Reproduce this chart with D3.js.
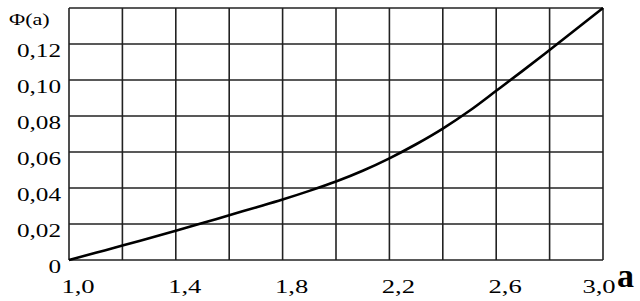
<!DOCTYPE html>
<html>
<head>
<meta charset="utf-8">
<script src="https://cdn.jsdelivr.net/npm/d3@7"></script>
<style>
  body { margin: 0; background: #fff; }
</style>
</head>
<body>
<div id="chart"></div>
<script>
// curve Φ(a)
let aValues   = [1.0, 1.1, 1.2, 1.3, 1.4, 1.5, 1.6, 1.7, 1.8, 1.9, 2.0,
                 2.1, 2.2, 2.3, 2.4, 2.5, 2.6, 2.7, 2.8, 2.9, 3.0];
let phiValues = [0, 0.0040, 0.0080, 0.0121, 0.0162, 0.0205, 0.0249, 0.0292, 0.0336, 0.0384, 0.0436,
                 0.0496, 0.0565, 0.0643, 0.0730, 0.0829, 0.0940, 0.1052, 0.1167, 0.1283, 0.1400];

let xTickValues = [1.0, 1.4, 1.8, 2.2, 2.6, 3.0];
let xTickLabels = ['1,0', '1,4', '1,8', '2,2', '2,6', '3,0'];
let yTickValues = [0, 0.02, 0.04, 0.06, 0.08, 0.10, 0.12];
let yTickLabels = ['0', '0,02', '0,04', '0,06', '0,08', '0,10', '0,12'];

let width = 640, height = 301;
let margin = {top: 8, right: 37, bottom: 41, left: 69};
let serif = '"Liberation Serif", "Times New Roman", Times, "DejaVu Serif", serif';

let svg = d3.select('#chart').append('svg')
            .attr('width', width)
            .attr('height', height)
            .attr('font-family', serif);

let xScale = d3.scaleLinear()
              .domain([1.0, 3.0])
              .range([margin.left, width - margin.right]);
let yScale = d3.scaleLinear()
              .domain([0, 0.14])
              .range([height - margin.bottom, margin.top]);

// grid every 0.2 on a, every 0.02 on Φ
let grid = svg.append('g')
              .attr('stroke', '#222')
              .attr('stroke-width', 1.6);

grid.selectAll('line.v')
      .data(d3.range(0, 11).map((i) => 1.0 + i * 0.2))
    .enter().append('line')
      .attr('x1', (d) => xScale(d))
      .attr('x2', (d) => xScale(d))
      .attr('y1', yScale(0))
      .attr('y2', yScale(0.14));

grid.selectAll('line.h')
      .data(d3.range(0, 8).map((i) => i * 0.02))
    .enter().append('line')
      .attr('x1', xScale(1.0))
      .attr('x2', xScale(3.0))
      .attr('y1', (d) => yScale(d))
      .attr('y2', (d) => yScale(d));

// the curve
let line = d3.line()
             .x((d, i) => xScale(aValues[i]))
             .y((d) => yScale(d))
             .curve(d3.curveMonotoneX);

svg.append('path')
    .datum(phiValues)
    .attr('fill', 'none')
    .attr('stroke', '#000')
    .attr('stroke-width', 2.6)
    .attr('d', line);

// stretch text horizontally like the scanned original
function stretch(sel, k) {
  sel.each(function() {
    let len = this.getComputedTextLength();
    d3.select(this)
      .attr('textLength', len * k)
      .attr('lengthAdjust', 'spacingAndGlyphs');
  });
}

// y labels sit just below their grid line
let yLabels = svg.selectAll('text.ylab')
      .data(yTickValues)
    .enter().append('text')
      .attr('class', 'ylab')
      .attr('x', 61)
      .attr('y', (d) => yScale(d) + 13)
      .attr('text-anchor', 'end')
      .attr('font-size', 18)
      .text((d, i) => yTickLabels[i]);
stretch(yLabels, 1.4);

let xLabels = svg.selectAll('text.xlab')
      .data(xTickValues)
    .enter().append('text')
      .attr('class', 'xlab')
      .attr('x', (d) => Math.min(xScale(d) + 9, 599))
      .attr('y', 293)
      .attr('text-anchor', 'middle')
      .attr('font-size', 19)
      .text((d, i) => xTickLabels[i]);
stretch(xLabels, 1.4);

let yTitle = svg.append('text')
      .attr('x', 9)
      .attr('y', 25)
      .attr('font-size', 17)
      .text('Φ(a)');
stretch(yTitle, 1.3);

svg.append('text')
    .attr('x', 617)
    .attr('y', 287)
    .attr('font-size', 34)
    .attr('font-weight', 'bold')
    .text('a');
</script>
</body>
</html>
